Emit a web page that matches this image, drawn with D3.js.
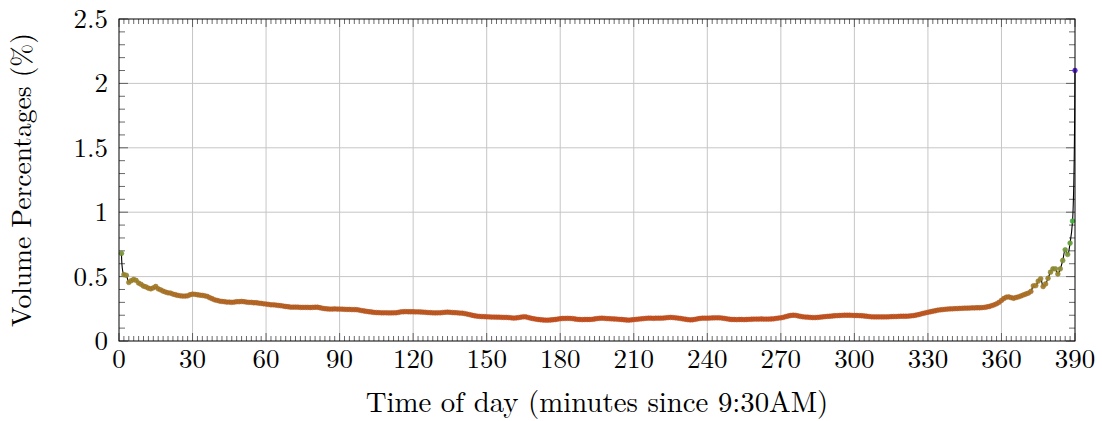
<!DOCTYPE html>
<html>
<head>
<meta charset="utf-8">
<script src="https://cdn.jsdelivr.net/npm/d3@7"></script>
<style>
  body { margin: 0; background: #fff; }
</style>
</head>
<body>
<div id="chart"></div>
<script>
const WIDTH = 1102,
    HEIGHT = 421;

const MARGIN = { top: 19, right: 27, bottom: 80, left: 119 };
const FONT = "'Latin Modern Roman', 'CMU Serif', 'Liberation Serif', 'DejaVu Serif', 'Times New Roman', serif";

// minutes since 9:30AM, one observation per minute
const minutes = d3.range(1, 391);

// volume percentage per minute
const volumePct = [
    0.68, 0.515, 0.51, 0.455, 0.468, 0.478, 0.47, 0.45, 0.44, 0.426,
    0.42, 0.41, 0.405, 0.413, 0.423, 0.405, 0.397, 0.387, 0.38, 0.374,
    0.372, 0.364, 0.359, 0.354, 0.351, 0.349, 0.349, 0.351, 0.359, 0.364,
    0.362, 0.359, 0.356, 0.354, 0.351, 0.346, 0.336, 0.328, 0.32, 0.315,
    0.31, 0.307, 0.305, 0.302, 0.302, 0.3, 0.302, 0.305, 0.305, 0.307,
    0.305, 0.302, 0.3, 0.3, 0.297, 0.297, 0.294, 0.292, 0.289, 0.287,
    0.284, 0.281, 0.281, 0.279, 0.276, 0.274, 0.271, 0.268, 0.266, 0.263,
    0.263, 0.263, 0.263, 0.261, 0.261, 0.261, 0.261, 0.26, 0.261, 0.262,
    0.262, 0.258, 0.254, 0.251, 0.249, 0.248, 0.248, 0.249, 0.248, 0.248,
    0.247, 0.246, 0.245, 0.245, 0.244, 0.244, 0.243, 0.24, 0.236, 0.233,
    0.23, 0.227, 0.225, 0.222, 0.221, 0.22, 0.219, 0.219, 0.219, 0.218,
    0.218, 0.219, 0.219, 0.222, 0.226, 0.227, 0.228, 0.227, 0.227, 0.227,
    0.226, 0.226, 0.225, 0.224, 0.223, 0.221, 0.22, 0.219, 0.218, 0.219,
    0.219, 0.221, 0.223, 0.224, 0.223, 0.221, 0.22, 0.219, 0.217, 0.216,
    0.213, 0.209, 0.205, 0.2, 0.196, 0.193, 0.191, 0.19, 0.189, 0.188,
    0.187, 0.186, 0.186, 0.185, 0.185, 0.184, 0.183, 0.183, 0.182, 0.18,
    0.178, 0.179, 0.182, 0.185, 0.188, 0.187, 0.182, 0.177, 0.173, 0.17,
    0.167, 0.165, 0.163, 0.162, 0.162, 0.163, 0.165, 0.167, 0.17, 0.173,
    0.175, 0.175, 0.176, 0.175, 0.174, 0.171, 0.168, 0.167, 0.166, 0.167,
    0.167, 0.167, 0.168, 0.171, 0.174, 0.176, 0.177, 0.176, 0.174, 0.173,
    0.172, 0.171, 0.17, 0.168, 0.167, 0.165, 0.163, 0.162, 0.164, 0.166,
    0.168, 0.17, 0.172, 0.174, 0.176, 0.177, 0.177, 0.176, 0.177, 0.177,
    0.177, 0.178, 0.18, 0.182, 0.183, 0.182, 0.18, 0.178, 0.175, 0.172,
    0.169, 0.166, 0.164, 0.165, 0.168, 0.172, 0.175, 0.177, 0.177, 0.177,
    0.178, 0.179, 0.18, 0.18, 0.18, 0.178, 0.175, 0.172, 0.169, 0.167,
    0.167, 0.166, 0.167, 0.167, 0.166, 0.167, 0.168, 0.169, 0.17, 0.17,
    0.17, 0.171, 0.17, 0.17, 0.17, 0.171, 0.172, 0.175, 0.178, 0.18,
    0.184, 0.189, 0.194, 0.198, 0.2, 0.199, 0.195, 0.191, 0.188, 0.186,
    0.185, 0.183, 0.182, 0.182, 0.183, 0.185, 0.187, 0.189, 0.191, 0.192,
    0.194, 0.196, 0.197, 0.198, 0.199, 0.2, 0.2, 0.2, 0.199, 0.198,
    0.198, 0.197, 0.196, 0.194, 0.192, 0.19, 0.188, 0.187, 0.187, 0.187,
    0.187, 0.187, 0.187, 0.188, 0.189, 0.19, 0.19, 0.191, 0.192, 0.192,
    0.192, 0.193, 0.195, 0.197, 0.2, 0.204, 0.209, 0.214, 0.219, 0.223,
    0.227, 0.231, 0.235, 0.239, 0.242, 0.244, 0.246, 0.248, 0.249, 0.25,
    0.251, 0.252, 0.253, 0.254, 0.255, 0.255, 0.256, 0.257, 0.257, 0.258,
    0.258, 0.259, 0.261, 0.264, 0.268, 0.274, 0.281, 0.289, 0.3, 0.315,
    0.33, 0.34, 0.342, 0.336, 0.332, 0.338, 0.343, 0.35, 0.358, 0.365,
    0.372, 0.385, 0.428, 0.43, 0.465, 0.483, 0.423, 0.443, 0.487, 0.534,
    0.56, 0.56, 0.52, 0.56, 0.625, 0.708, 0.672, 0.76, 0.931, 2.1
];

const xTicks = [0, 30, 60, 90, 120, 150, 180, 210, 240, 270, 300, 330, 360, 390];
const yTicks = [0, 0.5, 1, 1.5, 2, 2.5];

const xLabel = "Time of day (minutes since 9:30AM)";
const yLabel = "Volume Percentages (%)";

// colour of a marker follows its value (low = red-orange, high = blue)
const colorStops = [0.16, 0.45, 0.68, 0.95, 2.1];
const colorRange = ["#c94e1e", "#a4822a", "#7a9a38", "#40b040", "#5a1ee8"];

function createSVG() {
    return d3.select("#chart")
        .append("svg")
        .attr("width", WIDTH)
        .attr("height", HEIGHT)
        .attr("font-family", FONT);
}

function drawChart() {
    const svg = createSVG();
    const data = minutes.map((m, i) => ({ t: m, v: volumePct[i] }));

    const x = d3.scaleLinear().domain([0, 390]).range([MARGIN.left, WIDTH - MARGIN.right]);
    const y = d3.scaleLinear().domain([0, 2.5]).range([HEIGHT - MARGIN.bottom, MARGIN.top]);
    const color = d3.scaleLinear().domain(colorStops).range(colorRange);

    const x0 = x.range()[0], x1 = x.range()[1];
    const y0 = y.range()[0], y1 = y.range()[1];

    // grid
    const grid = svg.append("g").attr("stroke", "#c6c6c6").attr("stroke-width", 1);
    grid.selectAll(".vgrid").data(xTicks.slice(1, -1)).join("line")
        .attr("x1", d => x(d)).attr("x2", d => x(d))
        .attr("y1", y0).attr("y2", y1);
    grid.selectAll(".hgrid").data(yTicks.slice(1, -1)).join("line")
        .attr("x1", x0).attr("x2", x1)
        .attr("y1", d => y(d)).attr("y2", d => y(d));

    // ticks on all four sides, pointing inward
    const xMinor = d3.range(0, 391, 2).filter(d => d % 30 !== 0);
    const yMinor = d3.range(0, 26).map(d => d / 10).filter(d => Math.round(d * 10) % 5 !== 0);
    const ticks = svg.append("g").attr("stroke", "#444").attr("stroke-width", 0.8);
    [[y0, -1], [y1, 1]].forEach(([yy, dir]) => {
        ticks.append("g").selectAll("line").data(xMinor).join("line")
            .attr("x1", d => x(d)).attr("x2", d => x(d))
            .attr("y1", yy).attr("y2", yy + dir * 5);
        ticks.append("g").selectAll("line").data(xTicks).join("line")
            .attr("x1", d => x(d)).attr("x2", d => x(d))
            .attr("y1", yy).attr("y2", yy + dir * 8);
    });
    [[x0, 1], [x1, -1]].forEach(([xx, dir]) => {
        ticks.append("g").selectAll("line").data(yMinor).join("line")
            .attr("x1", xx).attr("x2", xx + dir * 6)
            .attr("y1", d => y(d)).attr("y2", d => y(d));
        ticks.append("g").selectAll("line").data(yTicks).join("line")
            .attr("x1", xx).attr("x2", xx + dir * 9)
            .attr("y1", d => y(d)).attr("y2", d => y(d));
    });

    // the series: black smooth line, then coloured markers
    const line = d3.line()
        .x(d => x(d.t))
        .y(d => y(d.v))
        .curve(d3.curveCatmullRom);

    svg.append("path")
        .datum(data)
        .attr("d", line)
        .attr("fill", "none")
        .attr("stroke", "#000")
        .attr("stroke-width", 1.1);

    svg.append("g").selectAll("circle").data(data).join("circle")
        .attr("cx", d => x(d.t))
        .attr("cy", d => y(d.v))
        .attr("r", 2.4)
        .attr("fill", d => color(d.v))
        .attr("stroke", d => d3.color(color(d.v)).darker(0.4))
        .attr("stroke-width", 0.5)
        .attr("fill-opacity", 0.95);

    // frame
    svg.append("rect")
        .attr("x", x0).attr("y", y1)
        .attr("width", x1 - x0).attr("height", y0 - y1)
        .attr("fill", "none")
        .attr("stroke", "#000")
        .attr("stroke-width", 1);

    // tick labels
    svg.append("g").selectAll("text").data(xTicks).join("text")
        .attr("x", d => x(d))
        .attr("y", y0 + 27)
        .attr("text-anchor", "middle")
        .attr("font-size", 27)
        .text(d => d);

    svg.append("g").selectAll("text").data(yTicks).join("text")
        .attr("x", x0 - 11)
        .attr("y", d => y(d) + 9)
        .attr("text-anchor", "end")
        .attr("font-size", 27)
        .text(d => d);

    // axis labels
    svg.append("text")
        .attr("x", (x0 + x1) / 2)
        .attr("y", 412)
        .attr("text-anchor", "middle")
        .attr("font-size", 28.8)
        .text(xLabel);

    svg.append("text")
        .attr("transform", `translate(31, ${(y0 + y1) / 2}) rotate(-90)`)
        .attr("text-anchor", "middle")
        .attr("font-size", 27.5)
        .text(yLabel);
}

drawChart();
</script>
</body>
</html>
